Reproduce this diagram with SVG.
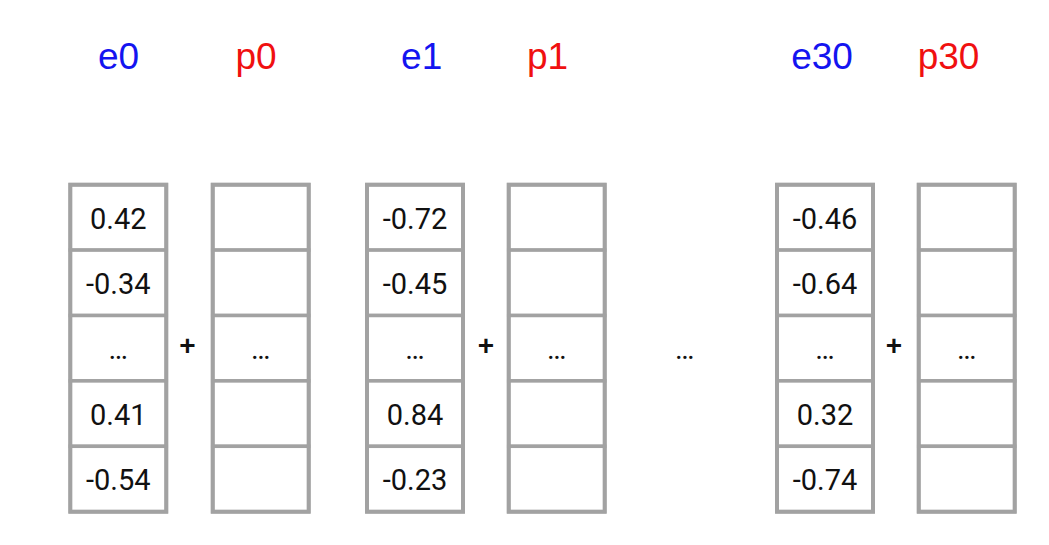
<svg xmlns="http://www.w3.org/2000/svg" width="1049" height="545" viewBox="0 0 1049 545">
<style>
.cell{fill:#fff;stroke:#a2a2a2;stroke-width:3.5}
.outer{fill:none;stroke:#a2a2a2;stroke-width:4}
.v{font-family:Roboto,"Liberation Sans",sans-serif;font-size:29px;fill:#111;text-anchor:middle}
.lab{font-family:"Liberation Sans",Arial,sans-serif;font-size:37px;text-anchor:middle}
.e{fill:#1414f0}
.p{fill:#f01010}
.plus{font-family:"Liberation Sans",Arial,sans-serif;font-size:28px;font-weight:bold;fill:#111;text-anchor:middle}
</style>
<defs>
<g id="col">
<rect class="cell" x="0" y="0" width="96" height="65.4"/>
<rect class="cell" x="0" y="65.4" width="96" height="65.4"/>
<rect class="cell" x="0" y="130.8" width="96" height="65.4"/>
<rect class="cell" x="0" y="196.2" width="96" height="65.4"/>
<rect class="cell" x="0" y="261.6" width="96" height="65.4"/>
<rect class="outer" x="0" y="0" width="96" height="327"/>
</g>
</defs>
<rect width="1049" height="545" fill="#fff"/>
<g id="labels">
<text class="lab e" x="118.5" y="68.5">e0</text>
<text class="lab p" x="256" y="68.5">p0</text>
<text class="lab e" x="421.7" y="68.5">e1</text>
<text class="lab p" x="547.5" y="68.5">p1</text>
<text class="lab e" x="822" y="68.5">e30</text>
<text class="lab p" x="948.6" y="68.5">p30</text>
</g>
<g id="e0">
<use href="#col" x="70.3" y="184.7"/>
<text class="v" x="118.3" y="228.5">0.42</text>
<text class="v" x="118.3" y="294">-0.34</text>
<text class="v" x="118.3" y="359">…</text>
<text class="v" x="118.3" y="424.8">0.41</text>
<text class="v" x="118.3" y="490.2">-0.54</text>
</g>
<g id="p0">
<use href="#col" x="212.7" y="184.7"/>
<text class="v" x="260.7" y="359">…</text>
</g>
<g id="e1">
<use href="#col" x="367" y="184.7"/>
<text class="v" x="415" y="228.5">-0.72</text>
<text class="v" x="415" y="294">-0.45</text>
<text class="v" x="415" y="359">…</text>
<text class="v" x="415" y="424.8">0.84</text>
<text class="v" x="415" y="490.2">-0.23</text>
</g>
<g id="p1">
<use href="#col" x="508.7" y="184.7"/>
<text class="v" x="556.7" y="359">…</text>
</g>
<g id="e30">
<use href="#col" x="777" y="184.7"/>
<text class="v" x="825" y="228.5">-0.46</text>
<text class="v" x="825" y="294">-0.64</text>
<text class="v" x="825" y="359">…</text>
<text class="v" x="825" y="424.8">0.32</text>
<text class="v" x="825" y="490.2">-0.74</text>
</g>
<g id="p30">
<use href="#col" x="918.7" y="184.7"/>
<text class="v" x="966.7" y="359">…</text>
</g>
<g id="connectors">
<text class="plus" x="187.5" y="355">+</text>
<text class="plus" x="486" y="355">+</text>
<text class="plus" x="894" y="355">+</text>
<text class="v" x="684.7" y="359">…</text>
</g>
</svg>
